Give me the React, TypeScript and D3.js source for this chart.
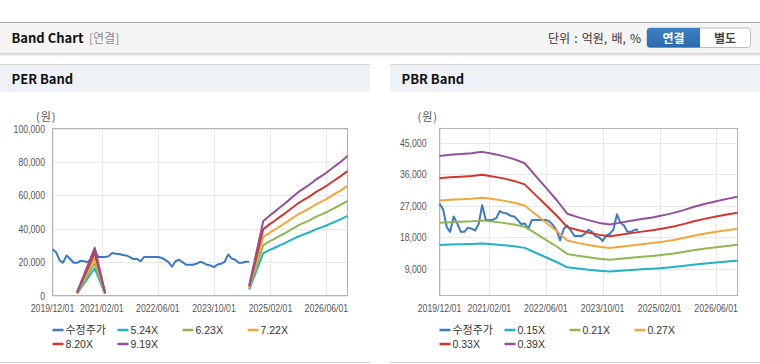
import React from 'react';
import * as d3 from 'd3';

// x axis
const xDomainDates = ['2019-12-01', '2026-12-01'];
const xTickDates = ['2019-12-01', '2021-02-01', '2022-06-01', '2023-10-01', '2025-02-01', '2026-06-01'];

// 수정주가, one value per month from 2019/12
const priceStart = '2019-12-01';
const priceValues = [
  27600, 26000, 21000, 19600, 24000, 22000, 19600, 19600, 20800, 20500, 20000, 21800,
  27200, 23000, 23000, 23000, 23500, 25500, 25000, 24800, 24200, 24000, 23000, 21800,
  22000, 20500, 23000, 23000, 23000, 23000, 23000, 22600, 21500, 20000, 17200, 20500,
  21400, 20000, 18400, 18400, 18400, 19000, 20200, 19600, 18400, 18000, 17000, 18600,
  19000, 20200, 24600, 22200, 21400, 19600, 19600, 20200, 20200,
];

// PER band: EPS (null = gap)
const perDates = [
  '2020-07-01', '2020-12-01', '2021-03-01', '2022-01-01',
  '2024-08-01', '2024-12-01', '2025-01-01', '2025-02-01', '2025-03-01', '2025-04-01',
  '2025-05-01', '2025-06-01', '2025-07-01', '2025-08-01', '2025-09-01', '2025-10-01',
  '2025-11-01', '2025-12-01', '2026-01-01', '2026-02-01', '2026-03-01', '2026-04-01',
  '2026-05-01', '2026-06-01', '2026-07-01', '2026-08-01', '2026-09-01', '2026-10-01',
  '2026-11-01', '2026-12-01',
];
const perEps = [
  220, 3110, 180, null,
  660, 4850, 5050, 5250, 5400, 5600,
  5780, 5960, 6150, 6350, 6550, 6740,
  6900, 7050, 7200, 7380, 7550, 7700,
  7840, 8000, 8180, 8360, 8530, 8700,
  8900, 9090,
];
const perMultiples = [5.24, 6.23, 7.22, 8.2, 9.19];
const perLabels = ['5.24X', '6.23X', '7.22X', '8.20X', '9.19X'];
const perYTicks = [0, 20000, 40000, 60000, 80000, 100000];

// PBR band: BPS
const pbrDates = [
  '2019-12-01', '2020-03-01', '2020-06-01', '2020-09-01', '2020-12-01', '2021-03-01',
  '2021-06-01', '2021-09-01', '2021-12-01', '2022-03-01', '2022-06-01', '2022-09-01',
  '2022-12-01', '2023-03-01', '2023-06-01', '2023-09-01', '2023-12-01', '2024-03-01',
  '2024-06-01', '2024-09-01', '2024-12-01', '2025-03-01', '2025-06-01', '2025-09-01',
  '2025-12-01', '2026-03-01', '2026-06-01', '2026-09-01', '2026-12-01',
];
const pbrBps = [
  105600, 106500, 107000, 107600, 108600, 107200,
  105500, 103300, 100300, 91500, 82500, 73500,
  63500, 61000, 58800, 56800, 55600, 57000,
  58300, 59600, 60800, 62300, 64100, 66300,
  68800, 70800, 72600, 74300, 75900,
];
const pbrMultiples = [0.15, 0.21, 0.27, 0.33, 0.39];
const pbrLabels = ['0.15X', '0.21X', '0.27X', '0.33X', '0.39X'];
const pbrYTicks = [9000, 18000, 27000, 36000, 45000];

const priceColor = '#3b78c6';
const bandColors = ['#20b3c4', '#8fb852', '#f3a73b', '#d2362f', '#95509c'];

const KR = '"Noto Sans CJK KR", "Noto Sans", sans-serif';
const LAT = '"Liberation Sans", Arial, sans-serif';

const parse = d3.timeParse('%Y-%m-%d');
const fmtTick = d3.timeFormat('%Y/%m/%d');
const fmtNum = d3.format(',');

// squeezed width for the narrow axis font of the original
const narrowWidth = (s: string) =>
  s.split('').reduce((w, c) => w + (c === ',' || c === '/' ? 2.6 : 4.8), 0);

type PanelProps = {
  px: number;
  title: string;
  left: number;
  right: number;
  yDomain: [number, number];
  yTicks: number[];
  yLabelEnd: number;
  bandDates: string[];
  bandBase: (number | null)[];
  multiples: number[];
  labels: string[];
};

function BandPanel(p: PanelProps) {
  const top = 128.5;
  const bottom = 295.5;
  const x = d3.scaleTime()
    .domain(xDomainDates.map(d => parse(d) as Date))
    .range([p.left, p.right]);
  const y = d3.scaleLinear().domain(p.yDomain).range([bottom, top]);

  const priceData = priceValues.map((v, i) => ({
    d: d3.timeMonth.offset(parse(priceStart) as Date, i),
    v,
  }));
  const line = d3.line<{ d: Date; v: number | null }>()
    .defined(e => e.v != null)
    .x(e => x(e.d))
    .y(e => y(e.v as number));

  const bands = p.multiples.map(m =>
    p.bandDates.map((d, i) => ({
      d: parse(d) as Date,
      v: p.bandBase[i] == null ? null : (p.bandBase[i] as number) * m,
    })),
  );

  const legendItems = [{ label: '수정주가', color: priceColor }].concat(
    p.labels.map((l, i) => ({ label: l, color: bandColors[i] })),
  );

  return (
    <g>
      {/* panel frame */}
      <rect x={p.px} y={64} width={370} height={299} fill="#fff" />
      <line x1={p.px} x2={p.px + 370} y1={64.5} y2={64.5} stroke="#d6d6d6" />
      <rect x={p.px} y={65} width={370} height={27} fill="#eef2f7" />
      <line x1={p.px} x2={p.px + 370} y1={362.5} y2={362.5} stroke="#d0d0d0" />
      <text x={p.px + 11.5} y={84} fontFamily={KR} fontWeight="bold" fontSize={13} fill="#111">
        {p.title}
      </text>

      <text x={(p.yLabelEnd - 9)} y={121} fontFamily={KR} fontSize={11} fill="#555" letterSpacing={1}>
        (원)
      </text>

      {/* grid */}
      {p.yTicks.map(t => (
        <line key={'gy' + t} x1={p.left} x2={p.right} y1={Math.round(y(t)) + 0.5} y2={Math.round(y(t)) + 0.5}
          stroke="#e8e8e8" />
      ))}
      {xTickDates.map(t => {
        const xx = Math.round(x(parse(t) as Date)) + 0.5;
        return <line key={'gx' + t} x1={xx} x2={xx} y1={top} y2={bottom} stroke="#e8e8e8" />;
      })}
      <rect x={p.left} y={top} width={p.right - p.left} height={bottom - top} fill="none" stroke="#b4b4b4" />

      {/* y labels */}
      {p.yTicks.map(t => (
        <text key={'ty' + t} x={p.yLabelEnd} y={y(t) + 4} textAnchor="end" fontFamily={LAT} fontSize={11}
          textLength={narrowWidth(fmtNum(t))} lengthAdjust="spacingAndGlyphs" fill="#555">
          {fmtNum(t)}
        </text>
      ))}
      {/* x labels */}
      {xTickDates.map(t => {
        const s = fmtTick(parse(t) as Date);
        const w = narrowWidth(s);
        return (
          <text key={'tx' + t} x={x(parse(t) as Date) - w / 2} y={311.5} fontFamily={LAT} fontSize={11}
            textLength={w} lengthAdjust="spacingAndGlyphs" fill="#555">
            {s}
          </text>
        );
      })}

      {/* series */}
      <path d={line(priceData) || ''} fill="none" stroke={priceColor} strokeWidth={2} strokeLinejoin="round" />
      {bands.map((b, i) => (
        <path key={'b' + i} d={line(b) || ''} fill="none" stroke={bandColors[i]} strokeWidth={2}
          strokeLinejoin="round" />
      ))}

      {/* legend */}
      {legendItems.map((it, i) => {
        const lx = p.left + (i % 4) * 65;
        const ly = 330 + Math.floor(i / 4) * 14;
        return (
          <g key={'lg' + i}>
            <line x1={lx} x2={lx + 11} y1={ly} y2={ly} stroke={it.color} strokeWidth={2.5} />
            <text x={lx + 13} y={ly + 4} fontFamily={i === 0 ? KR : LAT} fontSize={i === 0 ? 11 : 10.5} fill="#333">
              {it.label}
            </text>
          </g>
        );
      })}
    </g>
  );
}

export default function App() {
  return (
    <svg width={760} height={364} style={{ position: 'absolute', left: 0, top: 0, background: '#fff' }}>
      <defs>
        <linearGradient id="hdrShadow" x1="0" y1="0" x2="0" y2="1">
          <stop offset="0%" stopColor="#cfcfcf" />
          <stop offset="100%" stopColor="#ffffff" />
        </linearGradient>
        <linearGradient id="btnBlue" x1="0" y1="0" x2="0" y2="1">
          <stop offset="0%" stopColor="#3d7fc4" />
          <stop offset="100%" stopColor="#2b6aae" />
        </linearGradient>
      </defs>

      {/* top header bar */}
      <rect x={0} y={22} width={760} height={31} fill="#f4f4f4" />
      <line x1={0} x2={760} y1={22.5} y2={22.5} stroke="#a9a9a9" />
      <rect x={0} y={53} width={760} height={4} fill="url(#hdrShadow)" />
      <text x={11.5} y={43} fontFamily={KR} fontWeight="bold" fontSize={13} fill="#111">Band Chart</text>
      <text x={89} y={43} fontFamily={KR} fontSize={12} fill="#8a8a8a">[연결]</text>
      <text x={641} y={43} textAnchor="end" fontFamily={KR} fontSize={12} fill="#333" wordSpacing={1.5}>단위 : 억원, 배, %</text>

      <rect x={647} y={28} width={103.5} height={19.5} rx={3} fill="#fff" stroke="#bdbdbd" />
      <path d="M650,28 h50 v19.5 h-50 a3,3 0 0 1 -3,-3 v-13.5 a3,3 0 0 1 3,-3 z" fill="url(#btnBlue)" />
      <text x={673.5} y={42.5} textAnchor="middle" fontFamily={KR} fontWeight="bold" fontSize={12} fill="#fff">연결</text>
      <text x={725} y={42.5} textAnchor="middle" fontFamily={KR} fontWeight="bold" fontSize={12} fill="#444">별도</text>

      <BandPanel
        px={0}
        title="PER Band"
        left={52.5}
        right={347.5}
        yDomain={[0, 100000]}
        yTicks={perYTicks}
        yLabelEnd={45}
        bandDates={perDates}
        bandBase={perEps}
        multiples={perMultiples}
        labels={perLabels}
      />
      <BandPanel
        px={390}
        title="PBR Band"
        left={439.5}
        right={737.5}
        yDomain={[1500, 49000]}
        yTicks={pbrYTicks}
        yLabelEnd={426.5}
        bandDates={pbrDates}
        bandBase={pbrBps}
        multiples={pbrMultiples}
        labels={pbrLabels}
      />
    </svg>
  );
}
